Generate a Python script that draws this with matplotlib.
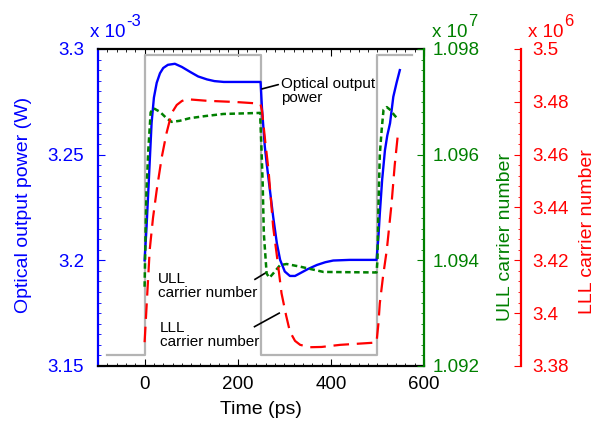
import matplotlib
matplotlib.use("Agg")
import matplotlib.pyplot as plt
from matplotlib.ticker import MultipleLocator, StrMethodFormatter

plt.rcParams['font.family'] = ['Liberation Sans', 'DejaVu Sans']

# --- Data ---
# input pulse (gray), in optical-power axis units (x 1e-3 W)
pulse_t = [-80, 0, 0, 250, 250, 500, 500, 574]
pulse_v = [3.1552, 3.1552, 3.2972, 3.2972, 3.1552, 3.1552, 3.2972, 3.2972]

# optical output power (x 1e-3 W)
power_t = [0, 4, 8, 15, 20, 26, 33, 40, 50, 65, 80, 99, 115, 134, 150, 170, 249,
           252, 258, 262, 269, 276, 284, 291, 301, 312, 323, 334, 350, 370, 388, 405, 440, 498,
           502, 505, 510, 516, 521, 527, 534, 541, 548]
power_v = [3.200, 3.215, 3.233, 3.265, 3.277, 3.284, 3.2885, 3.291, 3.2925, 3.293, 3.2915, 3.289,
           3.287, 3.2856, 3.2848, 3.2844, 3.2844,
           3.272, 3.254, 3.246, 3.2333, 3.2207, 3.208, 3.2002, 3.1947, 3.1926, 3.1926, 3.1939,
           3.1958, 3.1978, 3.1991, 3.1999, 3.2002, 3.2002,
           3.211, 3.222, 3.238, 3.252, 3.259, 3.2649, 3.2774, 3.284, 3.290]

# ULL carrier number (x 1e7)
ull_t = [0, 2, 4, 8, 13, 19, 33, 47, 58, 75, 97, 130, 169, 248,
         251, 253.5, 256, 262, 268, 276, 291, 305, 334, 384, 498,
         500, 502, 505, 509, 513, 520, 527, 536, 545]
ull_v = [1.0935, 1.0945, 1.0953, 1.0961, 1.0968, 1.09688, 1.09681, 1.09669, 1.09662, 1.09664,
         1.09669, 1.09673, 1.09677, 1.09679,
         1.09609, 1.09546, 1.09451, 1.09375, 1.09367, 1.09375, 1.09391, 1.09393, 1.09388,
         1.09378, 1.09377,
         1.0940, 1.0950, 1.0960, 1.09647, 1.09685, 1.0969, 1.09685, 1.09675, 1.09666]

# LLL carrier number (x 1e6)
lll_t = [0, 5, 11, 18, 26, 37, 47, 58, 69, 80, 90, 133, 198, 241, 249,
         252, 259, 266, 276, 286, 294, 304, 312, 323, 334, 355, 380, 420, 491, 498,
         502, 505, 512, 520, 530, 537, 544]
lll_v = [3.389, 3.405, 3.424, 3.436, 3.4466, 3.4592, 3.4681, 3.4757, 3.4788, 3.4803, 3.481,
         3.4804, 3.4799, 3.4794, 3.479,
         3.4768, 3.465, 3.4542, 3.4327, 3.419, 3.4075, 3.399, 3.393, 3.3895, 3.388, 3.3871,
         3.3872, 3.388, 3.3888, 3.389,
         3.396, 3.4037, 3.414, 3.4239, 3.441, 3.456, 3.468]

BLUE = "#0000ff"
GREEN = "#008000"
RED = "#ff0000"
GRAY = "#b4b4b4"
FS_TICK = 13.5
FS_LABEL = 14

fig = plt.figure(figsize=(5.97, 4.23), dpi=100)
ax = fig.add_axes([0.1642, 0.1348, 0.5461, 0.7494])
ax2 = ax.twinx()
ax3 = ax.twinx()

# --- main axis: power + input pulse ---
ax.plot(pulse_t, pulse_v, color=GRAY, lw=1.6)
ax.plot(power_t, power_v, color=BLUE, lw=1.7)
ax.set_xlim(-100, 600)
ax.set_ylim(3.15, 3.3)
ax.xaxis.set_major_locator(MultipleLocator(200))
ax.xaxis.set_minor_locator(MultipleLocator(20))
ax.yaxis.set_major_locator(MultipleLocator(0.05))
ax.yaxis.set_minor_locator(MultipleLocator(0.005))
ax.yaxis.set_major_formatter(StrMethodFormatter("{x:g}"))
ax.tick_params(axis="x", which="both", direction="in", top=True, labelsize=FS_TICK, pad=7)
ax.tick_params(axis="x", which="major", length=5)
ax.tick_params(axis="x", which="minor", length=2.5)
ax.tick_params(axis="y", which="both", direction="in", colors=BLUE, labelsize=FS_TICK, pad=10)
ax.tick_params(axis="y", which="major", length=5)
ax.tick_params(axis="y", which="minor", length=2.5)
ax.spines["left"].set_color(BLUE)
ax.spines["right"].set_visible(False)
for s in ["left", "bottom", "top"]:
    ax.spines[s].set_linewidth(1.6)
ax.set_xlabel("Time (ps)", fontsize=FS_LABEL, labelpad=6)
ax.set_ylabel("Optical output power (W)", fontsize=FS_LABEL, color=BLUE, va="center")
ax.yaxis.set_label_coords(-0.228, 0.508)

# --- ULL carrier number (green) ---
ax2.plot(ull_t, ull_v, color=GREEN, lw=1.8, dashes=(2.2, 1.4))
ax2.set_ylim(1.092, 1.098)
ax2.yaxis.set_major_locator(MultipleLocator(0.002))
ax2.yaxis.set_minor_locator(MultipleLocator(0.0002))
ax2.yaxis.set_major_formatter(StrMethodFormatter("{x:g}"))
ax2.tick_params(axis="y", which="both", direction="in", colors=GREEN, labelsize=FS_TICK, pad=6)
ax2.tick_params(axis="y", which="major", length=5)
ax2.tick_params(axis="y", which="minor", length=2.5)
for s in ["left", "top", "bottom"]:
    ax2.spines[s].set_visible(False)
ax2.spines["right"].set_color(GREEN)
ax2.spines["right"].set_linewidth(1.6)
ax2.set_ylabel("ULL carrier number", fontsize=FS_LABEL, color=GREEN, va="center")
ax2.yaxis.set_label_coords(1.25, 0.407)

# --- LLL carrier number (red) ---
ax3.plot(lll_t, lll_v, color=RED, lw=1.6, dashes=(7, 3.5))
ax3.set_ylim(3.38, 3.5)
ax3.yaxis.set_major_locator(MultipleLocator(0.02))
ax3.yaxis.set_minor_locator(MultipleLocator(0.004))
ax3.yaxis.set_major_formatter(StrMethodFormatter("{x:g}"))
ax3.spines["right"].set_position(("axes", 1.2975))
for s in ["left", "top", "bottom"]:
    ax3.spines[s].set_visible(False)
ax3.spines["right"].set_color(RED)
ax3.spines["right"].set_linewidth(1.6)
ax3.tick_params(axis="y", which="both", direction="in", colors=RED, labelsize=FS_TICK, pad=8)
ax3.tick_params(axis="y", which="major", length=5)
ax3.tick_params(axis="y", which="minor", length=2.5)
ax3.set_ylabel("LLL carrier number", fontsize=FS_LABEL, color=RED, va="center")
ax3.yaxis.set_label_coords(1.502, 0.423)

# --- annotations (in power axis coords) ---
ax.annotate("Optical output\npower", xy=(252, 3.2811), xytext=(293, 3.2868),
            fontsize=11, va="top", ha="left", linespacing=1.0,
            arrowprops=dict(arrowstyle="-", color="black", lw=1.2, shrinkA=0, shrinkB=0,
                            relpos=(0, 0.75)))
ax.text(29, 3.1945, "ULL\ncarrier number", fontsize=11, va="top", ha="left", linespacing=1.0)
ax.plot([237, 261], [3.191, 3.1942], color="black", lw=1.2)
ax.text(33, 3.1714, "LLL\ncarrier number", fontsize=11, va="top", ha="left", linespacing=1.0)
ax.plot([236, 289], [3.1686, 3.175], color="black", lw=1.2)

# --- exponent markers ---
def exponent(x, base_y, exp, color):
    fig.text(x / 597, 1 - base_y / 423, "x 10", fontsize=FS_TICK, color=color, va="baseline")
    fig.text((x + 36) / 597, 1 - (base_y - 11) / 423, exp, fontsize=FS_TICK - 1.5,
             color=color, va="baseline")

exponent(90, 37, "-3", BLUE)
exponent(432, 37, "7", GREEN)
exponent(528, 37, "6", RED)

fig.savefig("out.png", dpi=100)
